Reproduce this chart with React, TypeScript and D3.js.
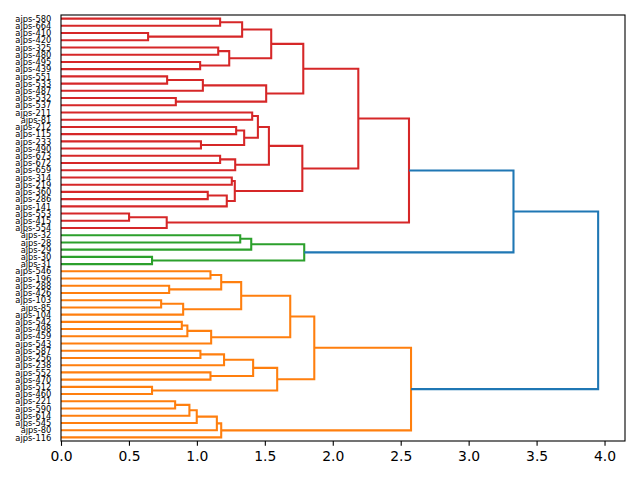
import React, { useEffect, useRef } from "react";
import * as d3 from "d3";

// leaf labels, top to bottom
const leaves = [
  "ajps-580", "ajps-664", "ajps-410", "ajps-420", "ajps-325", "ajps-480", "ajps-495", "ajps-439",
  "ajps-551", "ajps-533", "ajps-487", "ajps-532", "ajps-537", "ajps-211", "ajps-81", "ajps-212",
  "ajps-115", "ajps-233", "ajps-490", "ajps-673", "ajps-672", "ajps-659", "ajps-314", "ajps-219",
  "ajps-360", "ajps-286", "ajps-141", "ajps-553", "ajps-415", "ajps-554", "ajps-32", "ajps-28",
  "ajps-29", "ajps-30", "ajps-31", "ajps-546", "ajps-196", "ajps-288", "ajps-426", "ajps-103",
  "ajps-85", "ajps-104", "ajps-542", "ajps-498", "ajps-459", "ajps-543", "ajps-587", "ajps-256",
  "ajps-238", "ajps-552", "ajps-470", "ajps-512", "ajps-460", "ajps-221", "ajps-590", "ajps-614",
  "ajps-545", "ajps-80", "ajps-116",
];

// merges: [node id, upper child, lower child, distance]
const merges: [string, string, string, number][] = [
  ["n1", "ajps-580", "ajps-664", 1.171],
  ["n2", "ajps-410", "ajps-420", 0.641],
  ["n3", "n1", "n2", 1.333],
  ["n4", "ajps-325", "ajps-480", 1.157],
  ["n5", "ajps-495", "ajps-439", 1.024],
  ["n6", "n4", "n5", 1.238],
  ["n7", "n3", "n6", 1.547],
  ["n8", "ajps-551", "ajps-533", 0.781],
  ["n9", "n8", "ajps-487", 1.044],
  ["n10", "ajps-532", "ajps-537", 0.845],
  ["n11", "n9", "n10", 1.51],
  ["n12", "n7", "n11", 1.783],
  ["n13", "ajps-211", "ajps-81", 1.407],
  ["n14", "ajps-212", "ajps-115", 1.289],
  ["n15", "ajps-233", "ajps-490", 1.03],
  ["n16", "n14", "n15", 1.348],
  ["n17", "n13", "n16", 1.449],
  ["n18", "ajps-673", "ajps-672", 1.171],
  ["n19", "n18", "ajps-659", 1.282],
  ["n20", "n17", "n19", 1.53],
  ["n21", "ajps-314", "ajps-219", 1.257],
  ["n22", "ajps-360", "ajps-286", 1.08],
  ["n23", "n22", "ajps-141", 1.22],
  ["n24", "n21", "n23", 1.279],
  ["n25", "n20", "n24", 1.776],
  ["n26", "n12", "n25", 2.188],
  ["n27", "ajps-553", "ajps-415", 0.501],
  ["n28", "n27", "ajps-554", 0.778],
  ["n29", "n26", "n28", 2.561],
  ["g1", "ajps-32", "ajps-28", 1.319],
  ["g2", "g1", "ajps-29", 1.4],
  ["g3", "ajps-30", "ajps-31", 0.67],
  ["g4", "g2", "g3", 1.79],
  ["b1", "n29", "g4", 3.33],
  ["o1", "ajps-546", "ajps-196", 1.1],
  ["o2", "ajps-288", "ajps-426", 0.796],
  ["o3", "o1", "o2", 1.179],
  ["o4", "ajps-103", "ajps-85", 0.737],
  ["o5", "o4", "ajps-104", 0.899],
  ["o6", "o3", "o5", 1.326],
  ["o7", "ajps-542", "ajps-498", 0.889],
  ["o8", "o7", "ajps-459", 0.93],
  ["o9", "o8", "ajps-543", 1.105],
  ["o10", "o6", "o9", 1.687],
  ["o11", "ajps-587", "ajps-256", 1.026],
  ["o12", "o11", "ajps-238", 1.2],
  ["o13", "ajps-552", "ajps-470", 1.1],
  ["o14", "o12", "o13", 1.414],
  ["o15", "ajps-512", "ajps-460", 0.67],
  ["o16", "o14", "o15", 1.591],
  ["o17", "o10", "o16", 1.864],
  ["o18", "ajps-221", "ajps-590", 0.84],
  ["o19", "o18", "ajps-614", 0.945],
  ["o20", "o19", "ajps-545", 0.999],
  ["o21", "o20", "ajps-80", 1.147],
  ["o22", "o21", "ajps-116", 1.179],
  ["o23", "o17", "o22", 2.576],
  ["root", "b1", "o23", 3.953],
];

const xTicks = [0, 0.5, 1, 1.5, 2, 2.5, 3, 3.5, 4];
// cluster colours, assigned from the bottom cluster upwards
const clusterColors = ["#ff7f0e", "#2ca02c", "#d62728"];
const aboveColor = "#1f77b4";

function Dendrogram() {
  const svgRef = useRef<SVGSVGElement>(null);

  useEffect(() => {
    const width = 640;
    const height = 480;
    const margin = { top: 15, right: 15, bottom: 39, left: 61 };

    const svg = d3.select(svgRef.current).attr("width", width).attr("height", height);
    svg.selectAll("*").remove();

    const maxH = d3.max(merges, (d) => d[3]) as number;
    const threshold = 0.7 * maxH;

    const x = d3
      .scaleLinear()
      .domain([0, maxH * 1.05])
      .range([margin.left, width - margin.right]);

    const y = d3
      .scalePoint<string>()
      .domain(leaves)
      .range([margin.top, height - margin.bottom])
      .padding(0.5);

    // node positions
    const pos = new Map<string, { y: number; h: number }>();
    leaves.forEach((l) => pos.set(l, { y: y(l) as number, h: 0 }));
    const children = new Map<string, [string, string]>();
    merges.forEach(([id, a, b, h]) => {
      pos.set(id, { y: (pos.get(a)!.y + pos.get(b)!.y) / 2, h });
      children.set(id, [a, b]);
    });

    // colour clusters below threshold
    const color = new Map<string, string>();
    const clusterRoots: string[] = [];
    merges.forEach(([id, a, b, h]) => {
      if (h > threshold) {
        [a, b].forEach((c) => {
          if (children.has(c) && pos.get(c)!.h <= threshold) clusterRoots.push(c);
        });
      }
    });
    clusterRoots.sort((p, q) => pos.get(q)!.y - pos.get(p)!.y);
    const paint = (id: string, c: string) => {
      if (!children.has(id)) return;
      color.set(id, c);
      children.get(id)!.forEach((k) => paint(k, c));
    };
    clusterRoots.forEach((r, i) => paint(r, clusterColors[i % clusterColors.length]));

    const chart = svg.append("g");

    chart
      .selectAll("path.link")
      .data(merges)
      .join("path")
      .attr("class", "link")
      .attr("fill", "none")
      .attr("stroke", (d) => (d[3] > threshold ? aboveColor : color.get(d[0]) || aboveColor))
      .attr("stroke-width", 2.08)
      .attr("d", (d) => {
        const a = pos.get(d[1])!;
        const b = pos.get(d[2])!;
        return `M${x(a.h)},${a.y}H${x(d[3])}V${b.y}H${x(b.h)}`;
      });

    // frame
    chart
      .append("rect")
      .attr("x", margin.left)
      .attr("y", margin.top)
      .attr("width", width - margin.left - margin.right)
      .attr("height", height - margin.top - margin.bottom)
      .attr("fill", "none")
      .attr("stroke", "black")
      .attr("stroke-width", 1.1);

    // x axis
    const xAxis = chart
      .append("g")
      .attr("transform", `translate(0,${height - margin.bottom})`)
      .call(
        d3
          .axisBottom(x)
          .tickValues(xTicks)
          .tickFormat(d3.format(".1f") as any)
          .tickSize(4.86)
          .tickPadding(4.86)
      );
    xAxis.select(".domain").remove();
    xAxis.selectAll("line").attr("stroke-width", 1.1);
    xAxis
      .selectAll("text")
      .attr("font-family", "DejaVu Sans")
      .attr("font-size", 13.9)
      .attr("fill", "black");

    // leaf labels
    const yAxis = chart
      .append("g")
      .attr("transform", `translate(${margin.left},0)`)
      .call(d3.axisLeft(y).tickSize(0).tickPadding(9.72));
    yAxis.select(".domain").remove();
    yAxis
      .selectAll("text")
      .attr("font-family", "DejaVu Sans")
      .attr("font-size", 8.33)
      .attr("fill", "black");
  }, []);

  return <svg ref={svgRef} style={{ position: "absolute", left: 0, top: 0 }}></svg>;
}

export default function App() {
  return <Dendrogram />;
}
